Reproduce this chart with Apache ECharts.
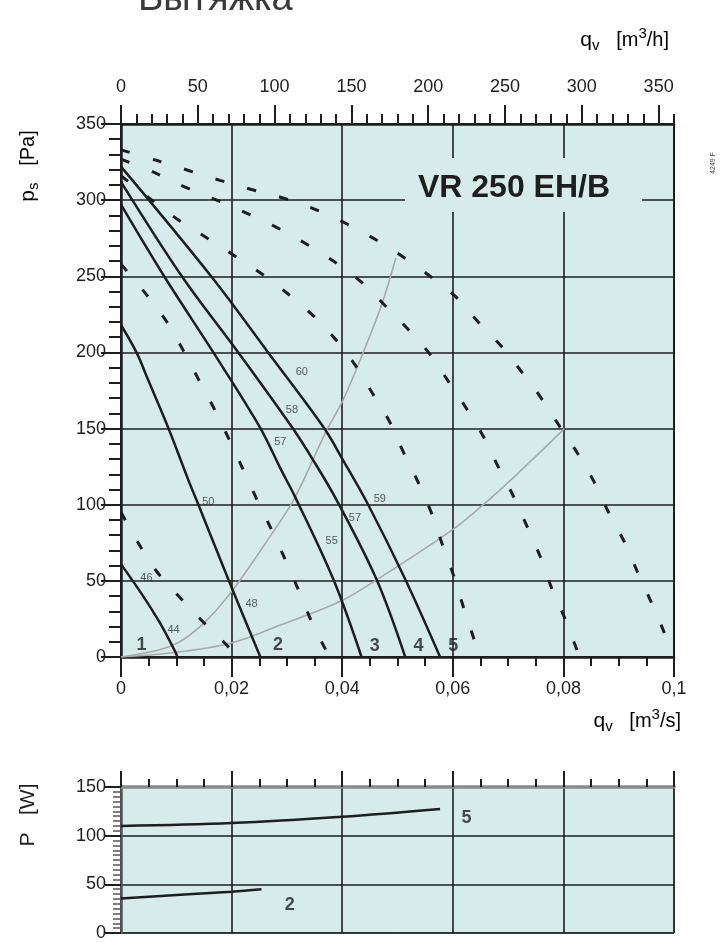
<!DOCTYPE html>
<html>
<head>
<meta charset="utf-8">
<script src="https://cdn.jsdelivr.net/npm/echarts@6/dist/echarts.min.js"></script>
<style>
  html, body { margin: 0; padding: 0; background: #fff; }
  #main { width: 722px; height: 942px; }
</style>
</head>
<body>
<div id="main"></div>
<script>
// fan curves 1..5, qv [m3/s] -> ps [Pa]
var curve1 = [[0, 61], [0.004, 40], [0.0071, 22], [0.0098, 3.5], [0.0102, 0]];
var curve2 = [[0, 218], [0.0028, 200], [0.0049, 182], [0.0086, 150], [0.0122, 116], [0.014, 100], [0.0194, 51], [0.0252, 0]];
var curve3 = [[0, 297], [0.0078, 250], [0.0167, 200], [0.0251, 151], [0.0288, 124], [0.0315, 105], [0.0384, 51], [0.0435, 0]];
var curve4 = [[0, 312], [0.011, 250], [0.0212, 200], [0.0309, 151], [0.0348, 129], [0.039, 103], [0.0462, 51], [0.0514, 0]];
var curve5 = [[0, 322], [0.0163, 250], [0.0266, 200], [0.0366, 151], [0.0402, 129], [0.0447, 100], [0.0514, 51], [0.0577, 0]];

// dashed curves
var dash1 = [[0, 333], [0.0065, 326], [0.0122, 319.5], [0.0179, 313], [0.0236, 307], [0.0297, 301], [0.0351, 294], [0.0408, 284.5], [0.0461, 274], [0.0509, 263], [0.0559, 250], [0.0607, 236], [0.0646, 220], [0.0688, 204], [0.0725, 187], [0.0758, 171], [0.0794, 151], [0.0827, 133], [0.0857, 114], [0.0883, 94], [0.0911, 75], [0.0935, 55], [0.096, 35], [0.0984, 14.5], [0.0994, 3]];
var dash2 = [[0, 327], [0.0061, 318], [0.0116, 308.5], [0.0173, 300], [0.0227, 291.5], [0.0282, 282], [0.0336, 271], [0.0384, 260], [0.0432, 247], [0.0477, 231], [0.0517, 216], [0.0556, 200], [0.0592, 181], [0.0625, 163], [0.0655, 145], [0.0682, 125], [0.0709, 106], [0.0734, 86], [0.0758, 66], [0.0779, 45], [0.0803, 25], [0.0826, 3]];
var dash3 = [[0, 316], [0.0049, 302], [0.01, 288], [0.0152, 276], [0.0203, 264], [0.0251, 252.5], [0.03, 239], [0.0345, 225], [0.0387, 209], [0.0423, 192], [0.0455, 173], [0.0485, 155], [0.051, 135], [0.0537, 115], [0.0562, 94], [0.058, 75], [0.0601, 54], [0.0619, 33], [0.0638, 12], [0.0645, 3]];
var dash4 = [[0, 258], [0.0046, 238], [0.0083, 220], [0.0113, 201], [0.0142, 181], [0.017, 162], [0.0194, 144], [0.0221, 123], [0.0245, 104], [0.0273, 83], [0.0297, 64], [0.0321, 44], [0.0345, 23], [0.0372, 3.5]];
var dash5 = [[0, 95], [0.0031, 75], [0.0065, 56], [0.0104, 40], [0.0146, 24], [0.0188, 9], [0.0205, 2]];

// system curves (grey)
var system1 = [[0, 0], [0.0089, 7], [0.0143, 20], [0.0198, 42], [0.0273, 81], [0.0315, 105], [0.0372, 149], [0.0402, 169], [0.0438, 200], [0.0471, 231], [0.0497, 262]];
var system2 = [[0, 0], [0.0089, 2.6], [0.0198, 9], [0.0288, 21], [0.0399, 37], [0.0468, 52], [0.0601, 84], [0.0655, 100], [0.071, 118], [0.0802, 150]];

// sound level labels [qv, ps, text]
var soundLabels = [[0.0327, 187, '60'], [0.0309, 162, '58'], [0.0288, 141, '57'], [0.0158, 102, '50'],
  [0.0468, 104, '59'], [0.0423, 91, '57'], [0.0381, 76, '55'], [0.0046, 52, '46'], [0.0236, 35, '48'], [0.0095, 18, '44']];
// curve numbers
var curveNumbers = [[0.0037, 8, '1'], [0.0284, 8, '2'], [0.0459, 7, '3'], [0.0538, 7, '4'], [0.0601, 7, '5']];

// power chart P [W]
var power5 = [[0, 110], [0.02, 113], [0.04, 119.5], [0.0577, 127.5]];
var power2 = [[0, 35.5], [0.02, 42.5], [0.0254, 45]];
var powerNumbers = [[0.0625, 118, '5'], [0.0305, 29, '2']];

var topTicks = [0, 50, 100, 150, 200, 250, 300, 350];

var bg = '#d6ecea';
var ink = '#1e1e1e';
var font = 'Liberation Sans, Arial, sans-serif';

var chart = echarts.init(document.getElementById('main'), null, { renderer: 'canvas' });

function solid(data) {
  return { type: 'line', xAxisIndex: 0, yAxisIndex: 0, data: data, smooth: 0.35, symbol: 'none',
    lineStyle: { color: ink, width: 2.5 }, silent: true, z: 4 };
}
function dashed(data) {
  return { type: 'line', xAxisIndex: 0, yAxisIndex: 0, data: data, smooth: 0.35, symbol: 'none',
    lineStyle: { color: ink, width: 3, type: [9, 24] }, silent: true, z: 3 };
}
function grey(data) {
  return { type: 'line', xAxisIndex: 0, yAxisIndex: 0, data: data, smooth: 0.35, symbol: 'none',
    lineStyle: { color: '#a9a9a9', width: 1.6 }, silent: true, z: 2 };
}
function labels(data, xi, yi, size, weight) {
  return { type: 'scatter', xAxisIndex: xi, yAxisIndex: yi, data: data, symbolSize: 1,
    itemStyle: { color: 'rgba(0,0,0,0)' }, silent: true, z: 6,
    label: { show: true, position: 'inside', formatter: function (p) { return p.value[2]; },
      color: size > 12 ? ink : '#333', fontSize: size, fontWeight: weight, fontFamily: font } };
}

var qsFormat = function (v) {
  if (v === 0) return '0';
  return String(Math.round(v * 100) / 100).replace('.', ',');
};

var subRich = {
  q: { fontSize: 21, fontFamily: font, color: ink },
  s: { fontSize: 15, fontFamily: font, color: ink, padding: [12, 0, 0, 0] },
  p: { fontSize: 15, fontFamily: font, color: ink, padding: [0, 0, 12, 0] },
  t: { fontSize: 20, fontFamily: font, color: ink }
};

var option = {
  animation: false,
  backgroundColor: '#fff',
  grid: [
    { left: 121, top: 124, width: 553, height: 533, show: true, backgroundColor: bg, borderColor: ink, borderWidth: 2 },
    { left: 121, top: 787, width: 553, bottom: 2, show: true, backgroundColor: bg, borderColor: ink, borderWidth: 1 }
  ],
  xAxis: [
    { // qv m3/s
      type: 'value', gridIndex: 0, min: 0, max: 0.1, interval: 0.02, position: 'bottom',
      axisLine: { show: true, onZero: false, lineStyle: { color: ink, width: 2.5 } },
      axisTick: { show: true, length: 20, lineStyle: { color: ink, width: 2 } },
      minorTick: { show: true, splitNumber: 4, length: 9, lineStyle: { color: ink, width: 2 } },
      axisLabel: { formatter: qsFormat, margin: 23, color: ink, fontSize: 18, fontFamily: font },
      splitLine: { show: true, lineStyle: { color: ink, width: 1.6 } }
    },
    { // qv m3/h, major ticks and labels
      type: 'value', gridIndex: 0, min: 0, max: 360, interval: 50, position: 'top',
      axisLine: { show: true, onZero: false, lineStyle: { color: ink, width: 2.5 } },
      axisTick: { show: true, length: 19, customValues: topTicks, lineStyle: { color: ink, width: 2 } },
      axisLabel: { customValues: topTicks, formatter: function (v) { return v > 350 ? '' : String(v); },
        margin: 28, color: ink, fontSize: 18, fontFamily: font },
      splitLine: { show: false }
    },
    { // qv m3/h, minor ticks
      type: 'value', gridIndex: 0, min: 0, max: 360, interval: 10, position: 'top',
      axisLine: { show: false, onZero: false },
      axisTick: { show: true, length: 10, lineStyle: { color: ink, width: 2 } },
      axisLabel: { show: false },
      splitLine: { show: false }
    },
    { // power chart
      type: 'value', gridIndex: 1, min: 0, max: 0.1, interval: 0.02, position: 'top',
      axisLine: { show: true, onZero: false, lineStyle: { color: '#8a8a8a', width: 3.5 } },
      axisTick: { show: true, length: 16, lineStyle: { color: ink, width: 2 } },
      minorTick: { show: true, splitNumber: 4, length: 8, lineStyle: { color: ink, width: 2 } },
      axisLabel: { show: false },
      splitLine: { show: true, lineStyle: { color: ink, width: 1.6 } }
    }
  ],
  yAxis: [
    {
      type: 'value', gridIndex: 0, min: 0, max: 350, interval: 50,
      axisLine: { show: true, onZero: false, lineStyle: { color: ink, width: 2.5 } },
      axisTick: { show: true, length: 20, lineStyle: { color: ink, width: 2 } },
      minorTick: { show: true, splitNumber: 5, length: 12, lineStyle: { color: ink, width: 2 } },
      axisLabel: { margin: 15, color: ink, fontSize: 18, fontFamily: font },
      splitLine: { show: true, lineStyle: { color: ink, width: 1.6 } }
    },
    {
      type: 'value', gridIndex: 1, min: 0, max: 150, interval: 50,
      axisLine: { show: true, onZero: false, lineStyle: { color: '#555', width: 2.5 } },
      axisTick: { show: true, length: 16, lineStyle: { color: ink, width: 2 } },
      minorTick: { show: true, splitNumber: 10, length: 8, lineStyle: { color: '#555', width: 1.5 } },
      axisLabel: { margin: 15, color: ink, fontSize: 18, fontFamily: font },
      splitLine: { show: true, lineStyle: { color: ink, width: 1.6 } }
    }
  ],
  series: [
    dashed(dash1), dashed(dash2), dashed(dash3), dashed(dash4), dashed(dash5),
    grey(system1), grey(system2),
    solid(curve1), solid(curve2), solid(curve3), solid(curve4), solid(curve5),
    labels(soundLabels, 0, 0, 11, 'normal'),
    labels(curveNumbers, 0, 0, 18, 'bold'),
    { type: 'line', xAxisIndex: 3, yAxisIndex: 1, data: power5, smooth: 0.35, symbol: 'none',
      lineStyle: { color: ink, width: 2.5 }, silent: true },
    { type: 'line', xAxisIndex: 3, yAxisIndex: 1, data: power2, smooth: 0.35, symbol: 'none',
      lineStyle: { color: ink, width: 2.5 }, silent: true },
    labels(powerNumbers, 3, 1, 18, 'bold')
  ],
  graphic: [
    { type: 'text', left: 138, top: -19, z: 10,
      style: { text: 'Вытяжка', font: '38px ' + font, fill: '#3a3a3a' } },
    { type: 'text', x: 669, y: 40, z: 10,
      style: { text: '{q|q}{s|v}{t|   [m}{p|3}{t|/h]}', align: 'right', verticalAlign: 'middle', rich: subRich } },
    { type: 'text', x: 681, y: 721, z: 10,
      style: { text: '{q|q}{s|v}{t|   [m}{p|3}{t|/s]}', align: 'right', verticalAlign: 'middle', rich: subRich } },
    { type: 'text', x: 28, y: 166, rotation: Math.PI / 2, z: 10,
      style: { text: '{q|p}{s|s}{t|   [Pa]}', align: 'center', verticalAlign: 'middle', rich: subRich } },
    { type: 'text', x: 28, y: 815, rotation: Math.PI / 2, z: 10,
      style: { text: 'P   [W]', align: 'center', verticalAlign: 'middle', fill: ink, font: '21px ' + font } },
    { type: 'text', x: 713, y: 163, rotation: Math.PI / 2, z: 10,
      style: { text: '4249 F', align: 'center', verticalAlign: 'middle', fill: '#444', font: '7px ' + font } },
    { type: 'rect', z: 50, shape: { x: 405, y: 158, width: 237, height: 54 }, style: { fill: bg } },
    { type: 'text', x: 514, y: 188, z: 51,
      style: { text: 'VR 250 EH/B', align: 'center', verticalAlign: 'middle', fill: ink,
        font: 'bold 32px ' + font } }
  ]
};

chart.setOption(option);
</script>
</body>
</html>
